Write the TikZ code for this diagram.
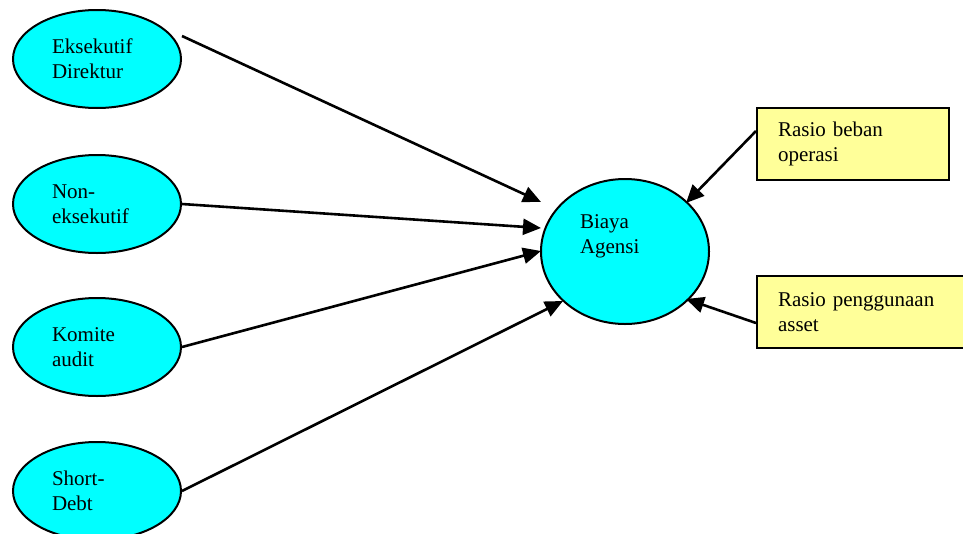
\documentclass[tikz,border=0pt]{standalone}
\usepackage{fontspec}
\setmainfont{Liberation Serif}
\usetikzlibrary{shapes.geometric,arrows.meta,calc}
\definecolor{ellfill}{HTML}{00FFFF}
\definecolor{boxfill}{HTML}{FFFF99}
\begin{document}
\begin{tikzpicture}[x=1pt,y=-1pt,
  txt/.style={font=\fontsize{21}{25}\selectfont},
  ell/.style={ellipse, draw=black, line width=2pt, fill=ellfill,
    minimum width=168pt, minimum height=98pt, inner sep=0pt,
    text width=90pt, align=left, txt},
  rbox/.style={rectangle, draw=black, line width=2pt, fill=boxfill,
    minimum height=72pt, inner xsep=21pt, inner ysep=0pt, align=left, txt},
  conn/.style={line width=2.6pt, -{Triangle[length=18pt,width=16pt]}}
]
\useasboundingbox (0,0) rectangle (963,533);
\clip (0,0) rectangle (963,533);

\node[ell] (e1) at (97,59) {Eksekutif\\Direktur};
\node[ell] (e2) at (97,204) {Non-\\eksekutif};
\node[ell] (e3) at (97,347) {Komite\\audit};
\node[ell] (e4) at (97,491) {Short-\\Debt};

\node[ellipse, draw=black, line width=2pt, fill=ellfill,
  minimum width=168pt, minimum height=145pt, inner sep=0pt] (bi) at (625,251.5) {};
\node[txt, text width=90pt, align=left, inner sep=0pt] (bitxt) at (625,236) {Biaya\\Agensi};

\node[rbox, text width=150pt] (b1) at (853,144) {Rasio beban\\operasi};
\node[rbox, text width=168pt] (b2) at (862,312) {Rasio penggunaan\\asset};

\coordinate (t1) at (541,202);
\coordinate (t2) at (541,228);
\coordinate (t3) at (541,251);
\coordinate (t4) at (563,301);
\coordinate (t5) at (686,203);
\coordinate (t6) at (686,299);

\draw[conn] ($(e1.east)+(0,-23)$) -- (t1);
\draw[conn] (e2.east) -- (t2);
\draw[conn] (e3.east) -- (t3);
\draw[conn] (e4.east) -- (t4);
\draw[conn] ([yshift=13pt]b1.west) -- (t5);
\draw[conn] ([yshift=-11pt]b2.west) -- (t6);
\end{tikzpicture}
\end{document}
